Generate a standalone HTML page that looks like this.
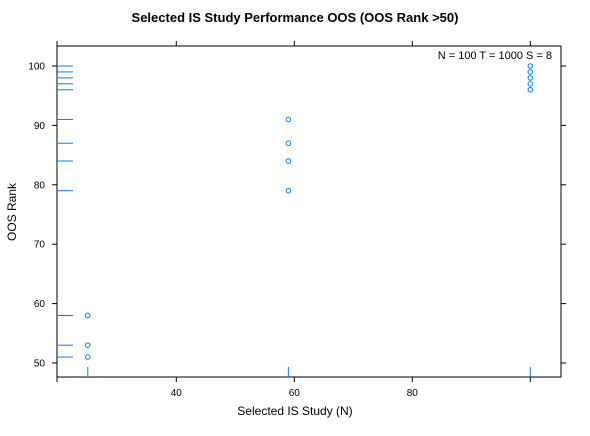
<!DOCTYPE html>
<html><head><meta charset="utf-8"><style>
body{margin:0;background:#fff;}
svg text{font-family:"Liberation Sans",sans-serif;}
</style></head><body>
<svg id="c" width="590" height="431"></svg>
<script>
const xsPts=[25,25,25,59,59,59,59,100,100,100,100,100];
const ysPts=[51,53,58,79,84,87,91,96,97,98,99,100];
const xTicks=[40,60,80,100];
const yTicks=[50,60,70,80,90,100];
const L=57,R=561,T=46,B=377;
const X=v=>176.3+(v-40)*5.9;
const Y=v=>363-(v-50)*5.94;
const s=document.getElementById('c');
const NS='http://www.w3.org/2000/svg';
function mk(t,a,txt){const e=document.createElementNS(NS,t);for(const k in a)e.setAttribute(k,a[k]);if(txt!=null)e.textContent=txt;s.appendChild(e);return e;}
const blue='#0080ff';
let e=mk('text',{x:295,y:22,'text-anchor':'middle','font-size':13,'font-weight':'bold'},'Selected IS Study Performance OOS (OOS Rank >50)');

e=mk('rect',{x:L,y:T,width:R-L,height:B-T,fill:'none',stroke:'#000','stroke-width':1});

xTicks.forEach(v=>{
 e=mk('line',{x1:X(v),x2:X(v),y1:B,y2:B+5,stroke:'#000'});
 
 e=mk('line',{x1:X(v),x2:X(v),y1:T,y2:T-5,stroke:'#000'});
 
 if(v<100){e=mk('text',{x:X(v),y:B+19,'text-anchor':'middle','font-size':10},v);
 }
});
e=mk('line',{x1:L,x2:L,y1:B,y2:B+5,stroke:'#000'});
e=mk('line',{x1:L,x2:L,y1:T,y2:T-5,stroke:'#000'});
yTicks.forEach(v=>{
 e=mk('line',{x1:L-5,x2:L,y1:Y(v),y2:Y(v),stroke:'#000'});
 
 e=mk('line',{x1:R,x2:R+5,y1:Y(v),y2:Y(v),stroke:'#000'});
 
 e=mk('text',{x:L-12,y:Y(v)+3.5,'text-anchor':'end','font-size':10},v);
 
});
e=mk('text',{x:295,y:415,'text-anchor':'middle','font-size':12},'Selected IS Study (N)');

e=mk('text',{x:16,y:212,'text-anchor':'middle','font-size':12,transform:'rotate(-90 16 212)'},'OOS Rank');

e=mk('text',{x:552,y:59,'text-anchor':'end','font-size':11},'N = 100  T = 1000  S = 8');

ysPts.forEach(v=>{
 e=mk('line',{x1:L,x2:L+16,y1:Y(v),y2:Y(v),stroke:blue});
 
});
[...new Set(xsPts)].forEach(v=>{
 e=mk('line',{x1:X(v),x2:X(v),y1:B-10,y2:B,stroke:blue});
 
});
xsPts.forEach((v,i)=>{
 e=mk('circle',{cx:X(v),cy:Y(ysPts[i]),r:2.3,fill:'none',stroke:blue,'stroke-width':1});
 
});
</script>
</body></html>
